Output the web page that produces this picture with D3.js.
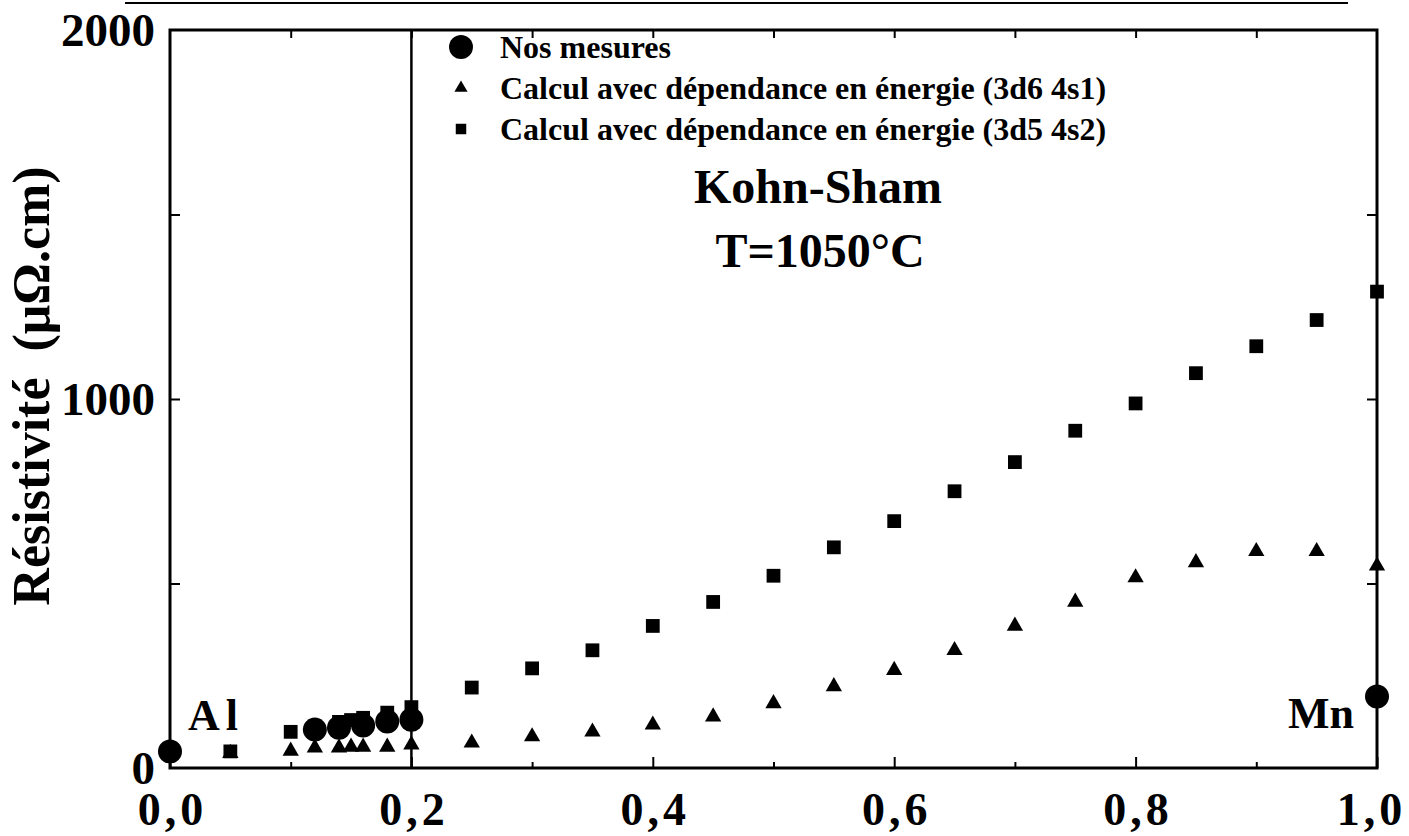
<!DOCTYPE html>
<html>
<head>
<meta charset="utf-8">
<script src="https://cdn.jsdelivr.net/npm/d3@7"></script>
<style>
  body { margin: 0; background: #fff; }
  text { font-family: "Liberation Serif", "DejaVu Serif", serif; font-weight: bold; fill: #000; }
</style>
</head>
<body>
<div id="chart"></div>
<script>
// Mn fraction (x) and resistivity (µΩ.cm)
const xMesures = [0, 0.12, 0.14, 0.16, 0.18, 0.2, 1.0];
const mesures = [45, 104, 109, 115, 126, 131, 194];

const xCalcul = [0.05, 0.1, 0.12, 0.14, 0.15, 0.16, 0.18, 0.2, 0.25, 0.3, 0.35, 0.4, 0.45,
    0.5, 0.55, 0.6, 0.65, 0.7, 0.75, 0.8, 0.85, 0.9, 0.95, 1.0];
const calcul3d6 = [40, 46, 55, 55, 57, 57, 57, 63, 68, 85, 98, 117, 139,
    175, 221, 265, 319, 385, 450, 516, 557, 587, 587, 548];
const calcul3d5 = [45, 98, 112, 125, 130, 136, 150, 165, 218, 270, 319, 385, 450,
    521, 598, 669, 750, 829, 914, 988, 1070, 1143, 1214, 1291];

const yLabels = [0, 1000, 2000];
const xLabels = [0, 0.2, 0.4, 0.6, 0.8, 1.0];
const legendLabels = ["Nos mesures",
    "Calcul avec dépendance en énergie (3d6 4s1)",
    "Calcul avec dépendance en énergie (3d5 4s2)"];

const width = 1409;
const height = 836;
const marginLeft = 170;
const marginRight = 32;
const marginTop = 30;
const marginBottom = 68;

const svg = d3.select("#chart").append("svg")
    .attr("width", width)
    .attr("height", height)
    .attr("viewBox", [0, 0, width, height]);

svg.append("rect").attr("width", width).attr("height", height).attr("fill", "#fff");

const x = d3.scaleLinear().domain([0, 1]).range([marginLeft, width - marginRight]);
const y = d3.scaleLinear().domain([0, 2000]).range([height - marginBottom, marginTop]);

const fmt = d => d3.format(".1f")(d).replace(".", ",");

// page header rule
svg.append("line")
    .attr("x1", 125).attr("x2", 1348)
    .attr("y1", 3).attr("y2", 3)
    .attr("stroke", "#000").attr("stroke-width", 2);

// minor x ticks (bottom, inward)
svg.append("g")
    .attr("transform", `translate(0,${y(0)})`)
    .call(d3.axisBottom(x).tickValues(d3.range(0.1, 1, 0.2)).tickSize(-6).tickFormat(""))
    .call(g => g.select(".domain").remove())
    .call(g => g.selectAll("line").attr("stroke-width", 2));

// major x ticks + labels
svg.append("g")
    .attr("transform", `translate(0,${y(0)})`)
    .call(d3.axisBottom(x).tickValues(xLabels).tickSize(-11).tickFormat(fmt))
    .call(g => g.select(".domain").remove())
    .call(g => g.selectAll("line").attr("stroke-width", 2))
    .call(g => g.selectAll("text")
        .attr("y", 57)
        .attr("dy", null)
        .attr("dx", d => d === 1 ? -6 : 2)
        .attr("font-size", 46)
        .attr("font-family", null)
        .attr("letter-spacing", 4));

// top ticks
svg.append("g")
    .attr("transform", `translate(0,${y(2000)})`)
    .call(d3.axisTop(x).tickValues(d3.range(0.1, 0.95, 0.1)).tickSize(-8).tickFormat(""))
    .call(g => g.select(".domain").remove())
    .call(g => g.selectAll("line").attr("stroke-width", 2));

// left ticks + labels
svg.append("g")
    .attr("transform", `translate(${x(0)},0)`)
    .call(d3.axisLeft(y).tickValues([500, 1000, 1500]).tickSize(-10).tickFormat(""))
    .call(g => g.select(".domain").remove())
    .call(g => g.selectAll("line").attr("stroke-width", 2));

svg.append("g")
    .attr("transform", `translate(${x(0)},0)`)
    .call(d3.axisLeft(y).tickValues(yLabels).tickSize(0).tickPadding(15).tickFormat(d3.format("d")))
    .call(g => g.select(".domain").remove())
    .call(g => g.selectAll("text")
        .attr("font-size", 47)
        .attr("font-family", null));

// right ticks
svg.append("g")
    .attr("transform", `translate(${x(1)},0)`)
    .call(d3.axisRight(y).tickValues([500, 1000, 1500]).tickSize(-10).tickFormat(""))
    .call(g => g.select(".domain").remove())
    .call(g => g.selectAll("line").attr("stroke-width", 2));

// frame
svg.append("rect")
    .attr("x", x(0)).attr("y", y(2000))
    .attr("width", x(1) - x(0)).attr("height", y(0) - y(2000))
    .attr("fill", "none").attr("stroke", "#000").attr("stroke-width", 3);

// vertical separator at x = 0.2
svg.append("line")
    .attr("x1", x(0.2)).attr("x2", x(0.2))
    .attr("y1", y(2000)).attr("y2", y(0))
    .attr("stroke", "#000").attr("stroke-width", 2.5);

// y axis title
svg.append("text")
    .attr("transform", `translate(49,${386}) rotate(-90)`)
    .attr("text-anchor", "middle")
    .attr("font-size", 52)
    .style("white-space", "pre")
    .text("Résistivité  (μΩ.cm)");

const square = d3.symbol().type(d3.symbolSquare);
const triangle = d3.symbol().type(d3.symbolTriangle);

// squares (3d5 4s2)
svg.append("g")
    .selectAll("path")
    .data(xCalcul.map((d, i) => [d, calcul3d5[i]]))
    .join("path")
    .attr("transform", d => `translate(${x(d[0])},${y(d[1])})`)
    .attr("d", square.size(190))
    .attr("fill", "#000");

// triangles (3d6 4s1)
svg.append("g")
    .selectAll("path")
    .data(xCalcul.map((d, i) => [d, calcul3d6[i]]))
    .join("path")
    .attr("transform", d => `translate(${x(d[0])},${y(d[1])})`)
    .attr("d", triangle.size(115))
    .attr("fill", "#000");

// circles (measurements)
svg.append("g")
    .selectAll("circle")
    .data(xMesures.map((d, i) => [d, mesures[i]]))
    .join("circle")
    .attr("cx", d => x(d[0]))
    .attr("cy", d => y(d[1]))
    .attr("r", 12)
    .attr("fill", "#000");

// element labels
svg.append("text")
    .attr("x", 188).attr("y", 730)
    .attr("font-size", 44)
    .attr("letter-spacing", 6)
    .text("Al");

svg.append("text")
    .attr("x", 1354).attr("y", 728)
    .attr("text-anchor", "end")
    .attr("font-size", 44)
    .text("Mn");

// legend
const legend = svg.append("g")
    .selectAll("g")
    .data(legendLabels)
    .join("g")
    .attr("transform", (d, i) => `translate(461,${47 + i * 41})`);

legend.append("path")
    .attr("d", (d, i) => i === 0 ? d3.symbol().type(d3.symbolCircle).size(450)()
        : i === 1 ? triangle.size(75)() : square.size(110)())
    .attr("fill", "#000");

legend.append("text")
    .attr("x", 39)
    .attr("y", 11)
    .attr("font-size", 32)
    .text(d => d);

// annotation
svg.append("text")
    .attr("x", 818).attr("y", 203)
    .attr("text-anchor", "middle")
    .attr("font-size", 48)
    .text("Kohn-Sham");

svg.append("text")
    .attr("x", 820).attr("y", 267)
    .attr("text-anchor", "middle")
    .attr("font-size", 48)
    .text("T=1050°C");
</script>
</body>
</html>
